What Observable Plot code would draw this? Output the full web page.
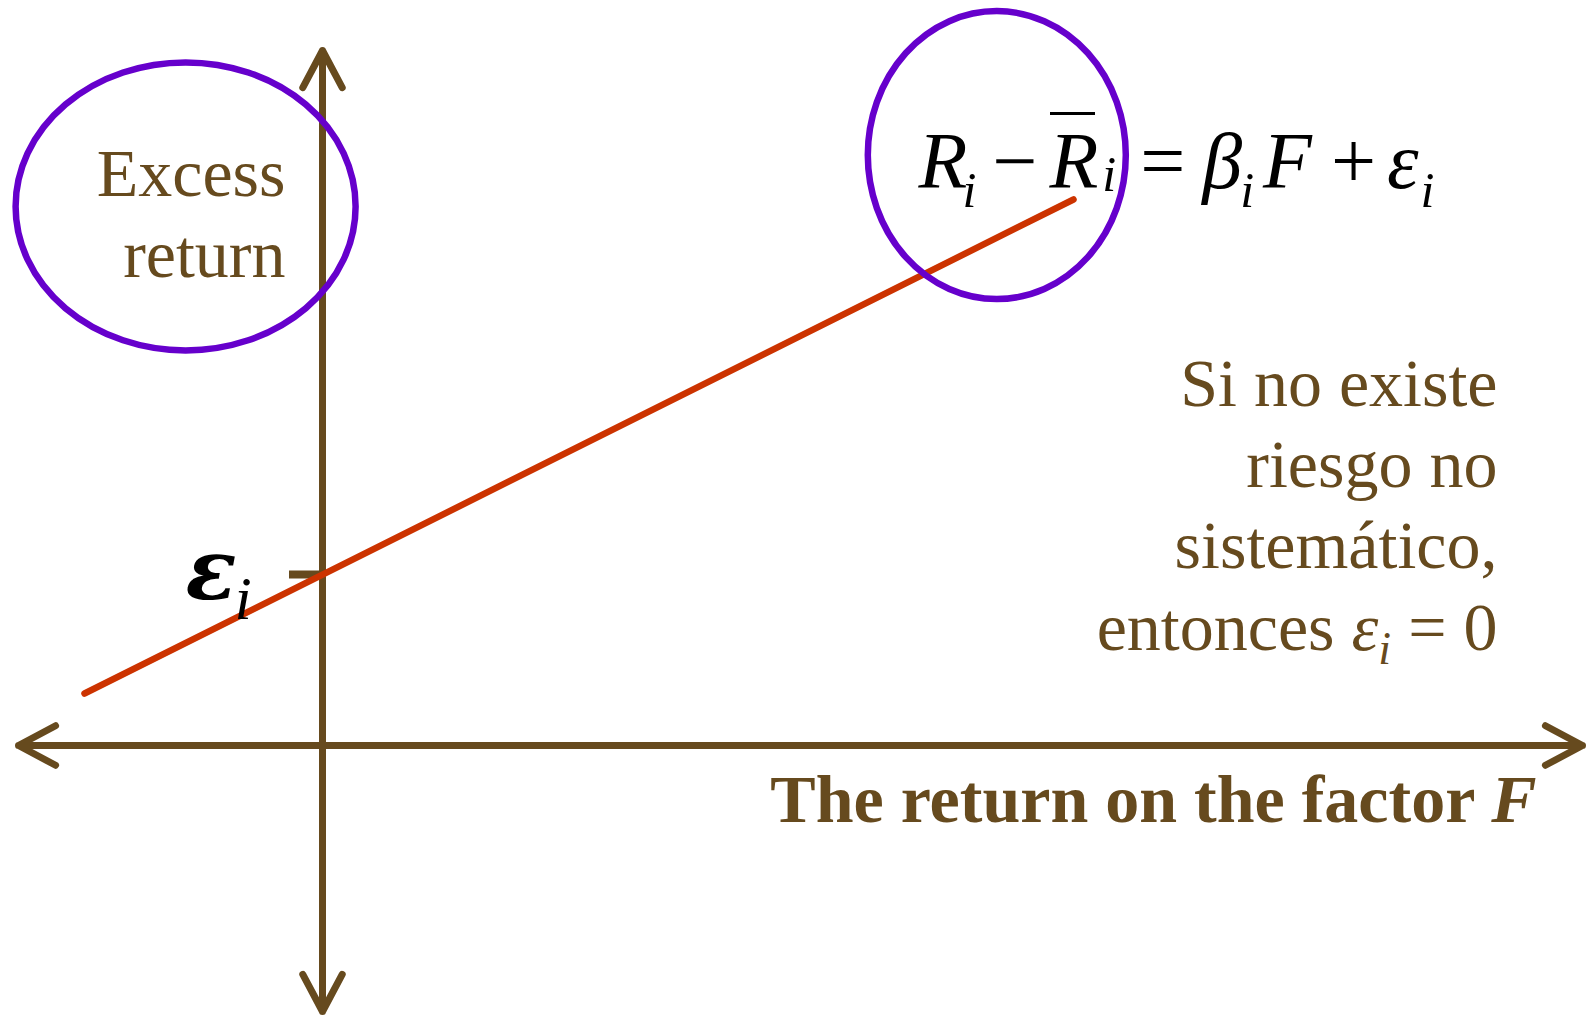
<!DOCTYPE html>
<html><head><meta charset="utf-8">
<script src="https://cdn.jsdelivr.net/npm/d3@7"></script>
<script src="https://cdn.jsdelivr.net/npm/@observablehq/plot@0.6"></script>
<style>html,body{margin:0;padding:0;background:#fff}</style>
</head><body><div id="chart"></div>
<script>
// ---- data (units: factor return F on x, excess return on y) ----
const lineF = [-2.38, 7.51];          // red regression line, F values
const lineR = [0.52, 5.46];           // red regression line, excess return
const epsTickX = [-0.33, 0];          // intercept tick on the y axis
const epsTickY = [1.71];
const axisEndsX = [-3.04, 12.60];     // horizontal axis arrow tips
const axisEndsY = [6.95, -2.66];      // vertical axis arrow tips
const ellCx = [-1.364, 6.748];
const ellCy = [5.386, 5.899];
const ellRx = [1.70, 1.29];
const ellRy = [1.44, 1.44];
const leftLines = ["Excess", "return"];
const leftX = [-0.37, -0.37];
const leftY = [5.50, 4.69];
const rightLines = ["Si no existe", "riesgo no", "sistemático,", "entonces ε_i = 0"];
const rightX = [11.75, 11.75, 11.75, 11.75];
const rightY = [3.394, 2.583, 1.772, 0.96];
const axisLabel = ["The return on the factor F"];
const axisLabelX = [12.14], axisLabelY = [-0.765];
const equation = ["R_i − R̄_i = β_i F + ε_i"];
const equationX = [5.96], equationY = [5.58];
const overbarX = [7.28, 7.73], overbarY = [6.32];   // bar over the mean return R̄
const epsLabel = ["ε_i"];
const epsLabelX = [-1.37], epsLabelY = [1.47];

const brown = "#664a1e", purple = "#6600cc", red = "#cc3300";
const serif = "Liberation Serif, Times New Roman, serif";

const arrows = [
  ...axisEndsX.map(x => ({x1: 0, y1: 0, x2: x, y2: 0})),
  ...axisEndsY.map(y => ({x1: 0, y1: 0, x2: 0, y2: y}))
];
const redLine = lineF.map((f, i) => ({f, r: lineR[i]}));
const ellipses = ellCx.map((cx, i) => ({cx, cy: ellCy[i], rx: ellRx[i], ry: ellRy[i]}));

function ellipseMark(index, scales) {
  const g = d3.create("svg:g").attr("aria-label", "ellipses");
  for (const e of ellipses) {
    const cx = scales.x(e.cx), cy = scales.y(e.cy);
    g.append("ellipse")
      .attr("cx", cx).attr("cy", cy)
      .attr("rx", Math.abs(scales.x(e.cx + e.rx) - cx))
      .attr("ry", Math.abs(scales.y(e.cy + e.ry) - cy))
      .attr("fill", "none").attr("stroke", purple).attr("stroke-width", 6.5);
  }
  return g.node();
}

const chart = Plot.plot({
  width: 1590, height: 1016,
  margin: 0,
  x: {domain: [-3.22, 12.68], axis: null},
  y: {domain: [-2.71, 7.45], axis: null},
  style: {background: "white", overflow: "visible"},
  marks: [
    Plot.arrow(arrows, {x1: "x1", y1: "y1", x2: "x2", y2: "y2", stroke: brown, strokeWidth: 7,
      headLength: 9, headAngle: 56, strokeLinecap: "round", strokeLinejoin: "miter"}),
    Plot.ruleY(epsTickY, {y: d => d, x1: epsTickX[0], x2: epsTickX[1], stroke: brown, strokeWidth: 8}),
    Plot.line(redLine, {x: "f", y: "r", stroke: red, strokeWidth: 6.5}),
    ellipseMark,
    Plot.ruleY(overbarY, {y: d => d, x1: overbarX[0], x2: overbarX[1], stroke: "#000", strokeWidth: 3}),
    Plot.text(leftLines, {x: (d, i) => leftX[i], y: (d, i) => leftY[i], text: d => d, textAnchor: "end",
      lineAnchor: "bottom", fontSize: 68, fontFamily: serif, fill: brown}),
    Plot.text(rightLines, {x: (d, i) => rightX[i], y: (d, i) => rightY[i], text: d => d, textAnchor: "end",
      lineAnchor: "bottom", fontSize: 68, fontFamily: serif, fill: brown}),
    Plot.text(axisLabel, {x: (d, i) => axisLabelX[i], y: (d, i) => axisLabelY[i], text: d => d, textAnchor: "end",
      lineAnchor: "bottom", fontSize: 68, fontWeight: "bold", fontFamily: serif, fill: brown}),
    Plot.text(equation, {x: (d, i) => equationX[i], y: (d, i) => equationY[i], text: d => d, textAnchor: "start",
      lineAnchor: "bottom", fontSize: 80, fontFamily: serif, fill: "#000"}),
    Plot.text(epsLabel, {x: (d, i) => epsLabelX[i], y: (d, i) => epsLabelY[i], text: d => d, textAnchor: "start",
      lineAnchor: "bottom", fontSize: 92, fontFamily: serif, fill: "#000"})
  ]
});
document.getElementById("chart").appendChild(chart);

// ---- rich text formatting (italics, subscripts) ----
function fill(textNode, segs) {
  const t = d3.select(textNode);
  t.text(null);
  for (const s of segs) {
    const sp = t.append("tspan").text(s.t);
    if (s.it) sp.attr("font-style", "italic");
    if (s.bold) sp.attr("font-weight", "bold");
    if (s.size) sp.attr("font-size", s.size);
    if (s.family) sp.attr("font-family", s.family);
    if (s.dx) sp.attr("dx", s.dx);
    if (s.dy) sp.attr("dy", s.dy);
  }
}
const rich = {
  "R_i − R̄_i = β_i F + ε_i": [
    {t: "R", it: true},
    {t: "i", it: true, size: 50, dx: -5, dy: 19},
    {t: "−", dx: 16, dy: -19},
    {t: "R", it: true, dx: 12},
    {t: "i", it: true, size: 50, dx: 4, dy: 3},
    {t: "=", dx: 24, dy: -3},
    {t: "β", it: true, dx: 17},
    {t: "i", it: true, size: 50, dx: -2, dy: 19},
    {t: "F", it: true, dx: 9, dy: -19},
    {t: "+", dx: 19},
    {t: "ε", it: true, dx: 11},
    {t: "i", it: true, size: 50, dx: 2, dy: 19}
  ],
  "entonces ε_i = 0": [
    {t: "entonces "},
    {t: "ε", it: true},
    {t: "i", it: true, size: 46, dy: 14},
    {t: " = 0", dy: -14}
  ],
  "The return on the factor F": [{t: "The return on the factor "}, {t: "F", it: true}],
  "ε_i": [
    {t: "ε", it: true, bold: true, family: "DejaVu Serif", size: 84},
    {t: "i", it: true, size: 62, dx: -2, dy: 20}
  ]
};
d3.select(chart).selectAll("text").each(function() {
  const segs = rich[this.textContent];
  if (segs) fill(this, segs);
});
</script>
</body></html>
